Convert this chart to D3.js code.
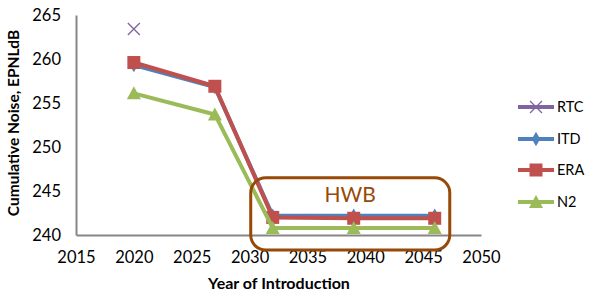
<!DOCTYPE html>
<html><head><meta charset="utf-8">
<script src="https://cdn.jsdelivr.net/npm/d3@7"></script>
<style>body{margin:0;background:#fff}svg{display:block}text{font-family:Lato,"Open Sans",sans-serif}</style>
</head><body>
<svg id="c" width="594" height="297"></svg>
<script>
const rtcYears = [2020];
const rtcValues = [263.4];
const years = [2020, 2027, 2032, 2039, 2046];
const itdValues = [259.3, 256.8, 242.2, 242.2, 242.2];
const eraValues = [259.6, 256.9, 242.0, 241.9, 241.9];
const n2Values = [256.1, 253.7, 240.8, 240.8, 240.8];
const xTicks = [2015, 2020, 2025, 2030, 2035, 2040, 2045, 2050];
const yTicks = [240, 245, 250, 255, 260, 265];
const seriesNames = ["RTC", "ITD", "ERA", "N2"];
const hwbBox = {x0: 2030.1, x1: 2047.3, y0: 246.5, y1: 238.3};

const svg = d3.select("#c");
const x = d3.scaleLinear().domain([2015, 2050]).range([76, 481]);
const y = d3.scaleLinear().domain([240, 265]).range([235, 15]);

// axes
const xa = svg.append("g").attr("transform", "translate(0,235)")
  .call(d3.axisBottom(x).tickValues(xTicks).tickFormat(d3.format("d")).tickSize(0).tickPadding(16));
const ya = svg.append("g").attr("transform", "translate(76,0)")
  .call(d3.axisLeft(y).tickValues(yTicks).tickSize(0).tickPadding(15));
[xa, ya].forEach(a => {
  a.select(".domain").attr("stroke", "#868686").attr("stroke-width", 2);
  a.selectAll("text").attr("font-size", 16.5).attr("fill", "#000");
});

const series = [
  {name: "RTC", xs: rtcYears, vs: rtcValues, color: "#8064A2", marker: "x"},
  {name: "ITD", xs: years, vs: itdValues, color: "#4F81BD", marker: "diamond"},
  {name: "ERA", xs: years, vs: eraValues, color: "#C0504D", marker: "square"},
  {name: "N2", xs: years, vs: n2Values, color: "#9BBB59", marker: "triangle"}
];

function drawMarker(g, type, color, cx, cy) {
  if (type === "x") {
    g.append("path").attr("d", `M${cx-6},${cy-6}L${cx+6},${cy+6}M${cx-6},${cy+6}L${cx+6},${cy-6}`)
      .attr("stroke", color).attr("stroke-width", 1.3).attr("fill", "none");
  } else if (type === "diamond") {
    g.append("path").attr("d", d3.symbol().type(d3.symbolDiamond).size(60)())
      .attr("transform", `translate(${cx},${cy})`).attr("fill", color);
  } else if (type === "square") {
    g.append("rect").attr("x", cx-6.5).attr("y", cy-6.5).attr("width", 13).attr("height", 13).attr("fill", color);
  } else if (type === "triangle") {
    g.append("path").attr("d", `M${cx},${cy-7}L${cx+7},${cy+6}L${cx-7},${cy+6}Z`).attr("fill", color);
  }
}

const line = d3.line().x(d => x(d[0])).y(d => y(d[1]));
series.forEach(s => {
  const pts = s.xs.map((yr, i) => [yr, s.vs[i]]);
  if (pts.length > 1)
    svg.append("path").attr("d", line(pts)).attr("fill", "none")
      .attr("stroke", s.color).attr("stroke-width", 4).attr("stroke-linejoin", "round");
  const g = svg.append("g");
  pts.forEach(p => drawMarker(g, s.marker, s.color, x(p[0]), y(p[1])));
});

// HWB box
svg.append("rect")
  .attr("x", x(hwbBox.x0)).attr("y", y(hwbBox.y0))
  .attr("width", x(hwbBox.x1) - x(hwbBox.x0)).attr("height", y(hwbBox.y1) - y(hwbBox.y0))
  .attr("rx", 15).attr("fill", "none").attr("stroke", "#984807").attr("stroke-width", 3);
svg.append("text").attr("x", (x(hwbBox.x0) + x(hwbBox.x1)) / 2).attr("y", 202)
  .attr("text-anchor", "middle").attr("font-size", 21).attr("fill", "#984807").text("HWB");

// legend
const legY = [107, 139, 170, 202];
series.forEach((s, i) => {
  const g = svg.append("g");
  g.append("line").attr("x1", 518).attr("x2", 554).attr("y1", legY[i]).attr("y2", legY[i])
    .attr("stroke", s.color).attr("stroke-width", 4);
  drawMarker(g, s.marker, s.color, 536, legY[i]);
  g.append("text").attr("x", 557).attr("y", legY[i]).attr("dy", "0.35em")
    .attr("font-size", 14.5).attr("fill", "#000").text(s.name);
});

// axis titles
svg.append("text").attr("x", 279).attr("y", 289).attr("text-anchor", "middle")
  .attr("font-size", 16).attr("font-weight", "bold").text("Year of Introduction");
svg.append("text").attr("transform", "translate(19,123) rotate(-90)").attr("text-anchor", "middle")
  .attr("font-size", 15.5).attr("font-weight", "bold").text("Cumulative Noise, EPNLdB");
</script>
</body></html>
